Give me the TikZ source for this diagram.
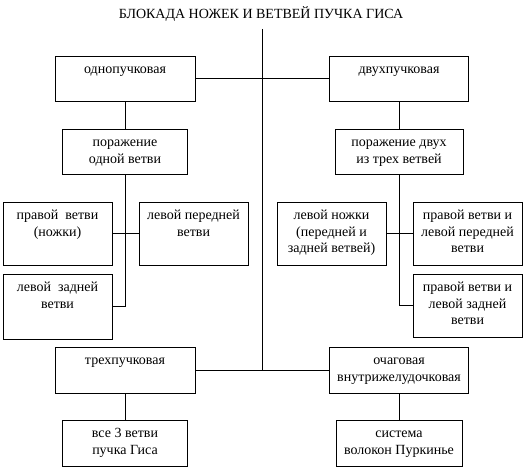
\documentclass[tikz,border=0pt]{standalone}
\usepackage{fontspec}
\setmainfont{Liberation Serif}
\begin{document}
\begin{tikzpicture}[x=1pt,y=-1pt,
  box/.style={draw, line width=0.9pt, inner sep=0pt},
  lbl/.style={anchor=north, align=center, inner sep=0pt, font=\fontsize{14}{16.5}\selectfont},
  conn/.style={line width=0.9pt}]
\useasboundingbox (0,0) rectangle (524,468);
% title
\node[anchor=base, inner sep=0pt, font=\fontsize{14}{16.5}\selectfont] (title) at (261,19) {БЛОКАДА НОЖЕК И ВЕТВЕЙ ПУЧКА ГИСА};
% boxes
\node[box, minimum width=140, minimum height=45] (odno) at (125,78.5) {};
\node[box, minimum width=139, minimum height=45] (dvuh) at (399,78.5) {};
\node[box, minimum width=125, minimum height=45] (por1) at (125,151.5) {};
\node[box, minimum width=128, minimum height=45] (por2) at (399,151.5) {};
\node[box, minimum width=109, minimum height=63] (prav) at (57.5,233.5) {};
\node[box, minimum width=109, minimum height=63] (levper) at (193.5,233.5) {};
\node[box, minimum width=109, minimum height=65] (levzad) at (57.5,306.5) {};
\node[box, minimum width=109, minimum height=63] (levnog) at (331.5,233.5) {};
\node[box, minimum width=109, minimum height=63] (pravlevper) at (467.5,233.5) {};
\node[box, minimum width=109, minimum height=63] (pravlevzad) at (467.5,305.5) {};
\node[box, minimum width=140, minimum height=46] (treh) at (125,370) {};
\node[box, minimum width=139, minimum height=46] (ochag) at (399,370) {};
\node[box, minimum width=125, minimum height=46] (vse3) at (125,443) {};
\node[box, minimum width=126, minimum height=46] (sist) at (399,443) {};
% texts
\node[lbl] (odno-t) at (125,63.7) {\rule{0pt}{10pt}однопучковая};
\node[lbl] (dvuh-t) at (399,63.7) {\rule{0pt}{10pt}двухпучковая};
\node[lbl] (por1-t) at (125,136.7) {\rule{0pt}{10pt}поражение\\одной ветви};
\node[lbl] (por2-t) at (399,136.7) {\rule{0pt}{10pt}поражение двух\\из трех ветвей};
\node[lbl] (prav-t) at (57.5,209.7) {\rule{0pt}{10pt}правой\ \ ветви\\(ножки)};
\node[lbl] (levper-t) at (193.5,209.7) {\rule{0pt}{10pt}левой передней\\ветви};
\node[lbl] (levzad-t) at (57.5,281.7) {\rule{0pt}{10pt}левой\ \ задней\\ветви};
\node[lbl] (levnog-t) at (331.5,209.7) {\rule{0pt}{10pt}левой ножки\\(передней и\\задней ветвей)};
\node[lbl] (pravlevper-t) at (467.5,209.7) {\rule{0pt}{10pt}правой ветви и\\левой передней\\ветви};
\node[lbl] (pravlevzad-t) at (467.5,281.7) {\rule{0pt}{10pt}правой ветви и\\левой задней\\ветви};
\node[lbl] (treh-t) at (125,354.7) {\rule{0pt}{10pt}трехпучковая};
\node[lbl] (ochag-t) at (399,354.7) {\rule{0pt}{10pt}очаговая\\внутрижелудочковая};
\node[lbl] (vse3-t) at (125,427.7) {\rule{0pt}{10pt}все 3 ветви\\пучка Гиса};
\node[lbl] (sist-t) at (399,427.7) {\rule{0pt}{10pt}система\\волокон Пуркинье};
% trunk
\coordinate (trunktop) at (262,29);
\coordinate (trunkbot) at (262,370);
\draw[conn] (trunktop) -- (trunkbot);
\draw[conn] (odno) -- (dvuh);
\draw[conn] (treh) -- (ochag);
% left branch
\draw[conn] (odno.south) -- (por1.north);
\draw[conn] (por1.south) |- (levzad.east);
\draw[conn] (prav.east) -- (levper.west);
% right branch
\draw[conn] (dvuh.south) -- (por2.north);
\draw[conn] (por2.south) |- (pravlevzad.west);
\draw[conn] (levnog.east) -- (pravlevper.west);
% bottom
\draw[conn] (treh.south) -- (vse3.north);
\draw[conn] (ochag.south) -- (sist.north);
\end{tikzpicture}
\end{document}
